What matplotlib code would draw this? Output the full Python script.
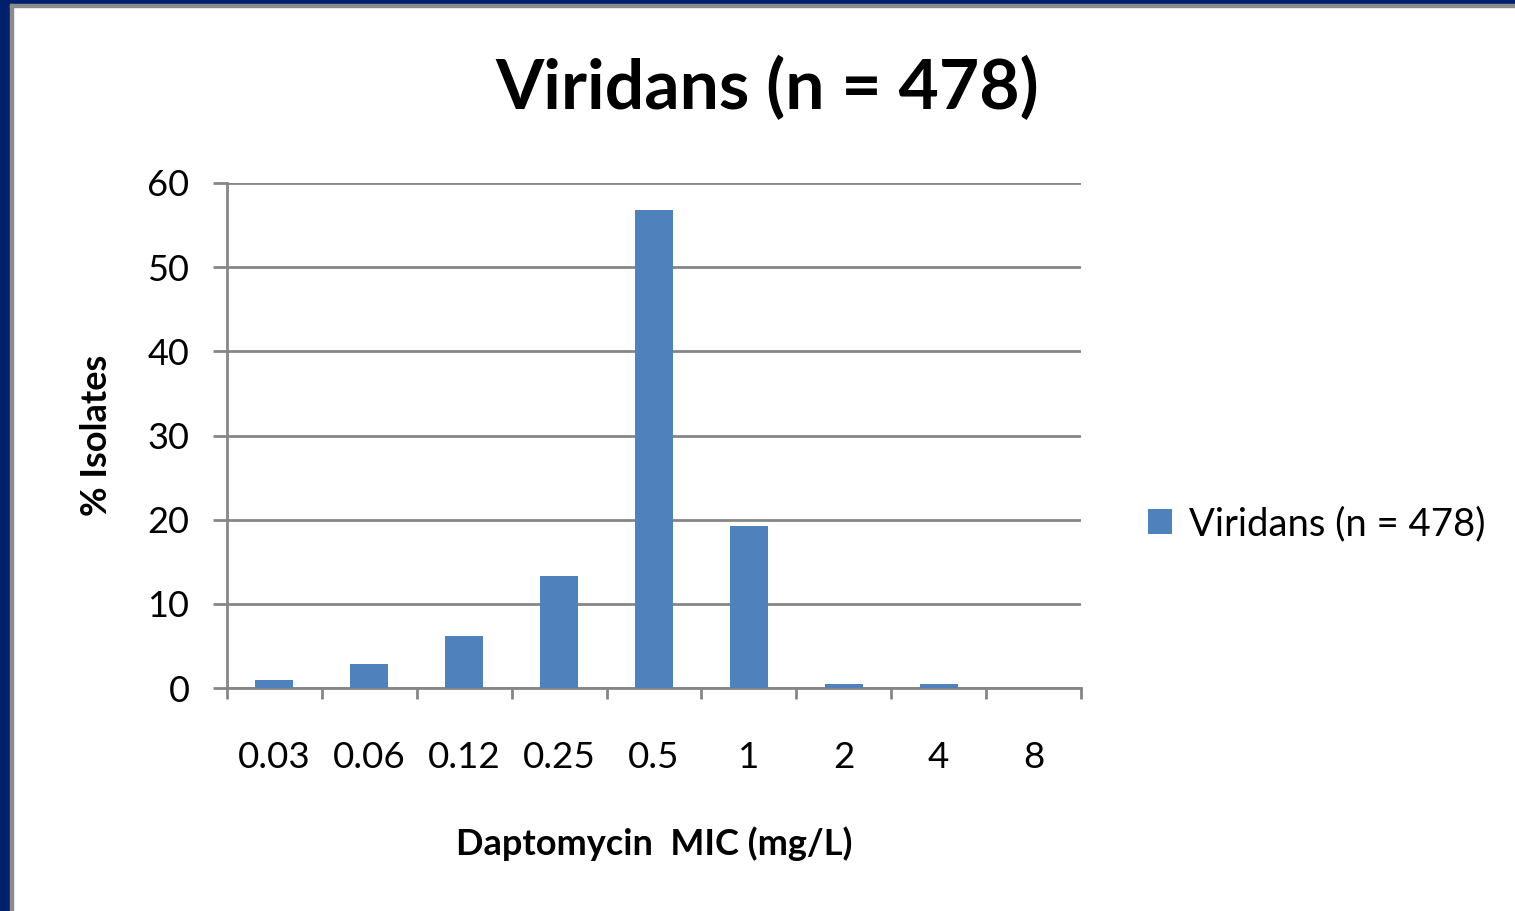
import matplotlib.pyplot as plt
from matplotlib.patches import Rectangle

plt.rcParams['font.family'] = ['Lato', 'DejaVu Sans']

# Données
mic_labels = ["0.03", "0.06", "0.12", "0.25", "0.5", "1", "2", "4", "8"]
pct_isolates = [0.9, 2.8, 6.2, 13.3, 56.8, 19.3, 0.5, 0.5, 0.0]
series_name = "Viridans (n = 478)"
y_ticks = [0, 10, 20, 30, 40, 50, 60]

grey = "#868686"
bar_color = "#4f81bd"

fig = plt.figure(figsize=(15.15, 9.11), dpi=100)

# cadre bleu de la diapositive
fig.patches.append(Rectangle((0, 0), 10 / 1515, 1, transform=fig.transFigure, color="#00206e", zorder=0))
fig.patches.append(Rectangle((0, 1 - 4 / 911), 1, 4 / 911, transform=fig.transFigure, color="#00206e", zorder=0))
fig.patches.append(Rectangle((10 / 1515, 0), 3 / 1515, 1 - 4 / 911, transform=fig.transFigure, color="#8c8c8c", zorder=0))
fig.patches.append(Rectangle((10 / 1515, 1 - 7 / 911), 1, 3 / 911, transform=fig.transFigure, color="#8c8c8c", zorder=0))

ax = fig.add_axes([227 / 1515, 1 - 688 / 911, (1081 - 227) / 1515, (688 - 183) / 911])

x = list(range(len(mic_labels)))
ax.bar(x, pct_isolates, width=0.4, color=bar_color, zorder=3, label=series_name)

ax.set_xlim(-0.5, len(mic_labels) - 0.5)
ax.set_ylim(0, 60)
ax.set_yticks(y_ticks)
ax.yaxis.grid(True, color=grey, linewidth=2)
ax.set_axisbelow(True)

# graduations entre catégories
ax.set_xticks([i - 0.5 for i in range(len(mic_labels) + 1)], minor=False)
ax.set_xticklabels([])
ax.set_xticks(x, minor=True)
ax.set_xticklabels(mic_labels, minor=True, fontsize=26.5)
ax.tick_params(axis="x", which="major", length=8, width=2, color=grey)
ax.tick_params(axis="x", which="minor", length=0, pad=38)
ax.tick_params(axis="y", length=10, width=2, color=grey, labelsize=26, pad=17)

for s in ["top", "right"]:
    ax.spines[s].set_visible(False)
ax.spines["left"].set_color(grey)
ax.spines["bottom"].set_color(grey)
ax.spines["left"].set_linewidth(2)
ax.spines["bottom"].set_linewidth(2)

ax.set_xlabel("Daptomycin  MIC (mg/L)", fontsize=26, fontweight="bold", labelpad=38)
ax.set_ylabel("% Isolates", fontsize=26, fontweight="bold", labelpad=25)

fig.text(767 / 1515, 1 - 88 / 911, series_name, fontsize=50, fontweight="bold", ha="center", va="center")

ax.legend(loc="center left", bbox_to_anchor=(1114 / 1515, 1 - 524 / 911), bbox_transform=fig.transFigure,
          frameon=False, fontsize=27.5, handlelength=0.62, handleheight=0.62, handletextpad=0.45)

fig.savefig("out.png", dpi=100)
